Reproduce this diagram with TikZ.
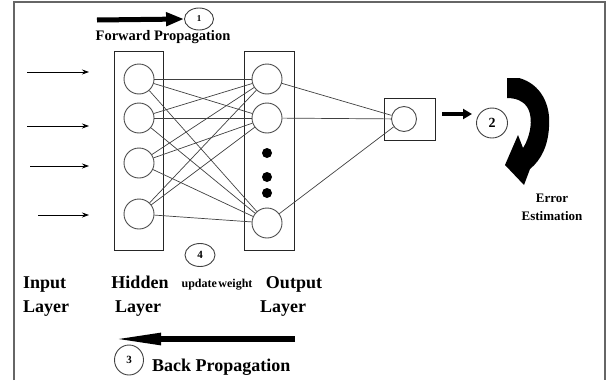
\documentclass[tikz,border=0pt]{standalone}
\usepackage{fontspec}
\setmainfont{Liberation Serif}
\usetikzlibrary{arrows.meta,shapes.geometric}
\begin{document}
\begin{tikzpicture}[x=1pt,y=-1pt,
  neuron/.style={draw=black!70, line width=0.9pt, circle, minimum size=30pt, inner sep=0pt},
  dotnode/.style={fill=black, circle, minimum size=10pt, inner sep=0pt},
  layerbox/.style={draw=black!85, line width=0.9pt},
  link/.style={draw=black!75, line width=0.7pt},
  numnode/.style={draw=black!75, line width=0.9pt, ellipse, inner sep=0pt, font=\bfseries},
  lbl/.style={font=\fontsize{18}{20}\selectfont\bfseries, inner sep=0pt},
  inarrow/.style={draw=black, line width=0.8pt, -{Stealth[length=7pt,width=5pt]}}
]
\useasboundingbox (0,0) rectangle (609,380);
% frame
\draw[draw=black!60, line width=1.8pt] (14,380) -- (14,2) -- (605,2) -- (605,380);

% layer boxes
\draw[layerbox] (114,51) rectangle (163,250);
\draw[layerbox] (244,51) rectangle (294,250);
\draw[layerbox] (384,98) rectangle (435,140);

% neurons
\node[neuron] (h1) at (139,79) {};
\node[neuron] (h2) at (139,118) {};
\node[neuron] (h3) at (139,163) {};
\node[neuron] (h4) at (139,214) {};
\node[neuron] (o1) at (267,79) {};
\node[neuron] (o2) at (267,118) {};
\node[neuron] (o3) at (267,223) {};
\node[dotnode] (d1) at (267,153) {};
\node[dotnode] (d2) at (267,177) {};
\node[dotnode] (d3) at (267,193) {};
\node[neuron, minimum size=25pt] (f) at (404,119) {};

% connections
\foreach \h in {h1,h2,h3,h4}
  \foreach \o in {o1,o2,o3}
    \draw[link] (\h) -- (\o);
\foreach \o in {o1,o2,o3}
  \draw[link] (\o) -- (f);

% input arrows
\coordinate (i1s) at (27,72);  \coordinate (i1e) at (89,72);
\coordinate (i2s) at (27,126); \coordinate (i2e) at (89,126);
\coordinate (i3s) at (30,166); \coordinate (i3e) at (89,166);
\coordinate (i4s) at (38,215); \coordinate (i4e) at (89,215);
\draw[inarrow] (i1s) -- (i1e);
\draw[inarrow] (i2s) -- (i2e);
\draw[inarrow] (i3s) -- (i3e);
\draw[inarrow] (i4s) -- (i4e);

% numbered circles
\node[numnode, minimum width=29pt, minimum height=22pt, font=\fontsize{9}{9}\selectfont\bfseries] (n1) at (199,19) {1};
\node[numnode, minimum width=31pt, minimum height=30pt, font=\fontsize{14}{14}\selectfont\bfseries] (n2) at (492,123) {2};
\node[numnode, minimum width=29pt, minimum height=30pt, font=\fontsize{11}{11}\selectfont\bfseries] (n3) at (129,360) {3};
\node[numnode, minimum width=30pt, minimum height=23pt, font=\fontsize{11}{11}\selectfont\bfseries] (n4) at (200,255) {4};

% forward arrow
\coordinate (fs) at (97,20);
\draw[line width=5pt, -{Triangle[length=18pt,width=13pt]}] (fs) -- (n1.west);

% arrow to circle 2
\coordinate (fbe) at (442,114);
\coordinate (fbt) at (472,114);
\draw[line width=4pt, -{Triangle[length=9pt,width=10pt]}] (fbe) -- (fbt);

% back arrow
\coordinate (bs) at (295,339);
\coordinate (be) at (113,339);
\draw[line width=5.5pt, -{Triangle[length=48pt,width=11pt]}] (bs) -- (be);

% curved error arrow
\fill (507,78) -- (519,78) .. controls (541,84) and (551,105) .. (549,127)
  .. controls (548,146) and (541,160) .. (530,169) -- (524,185) -- (505,165)
  -- (518,135) -- (523,148) .. controls (532,134) and (535,110) .. (522,102)
  .. controls (518,99) and (512,98) .. (507,98) -- cycle;

% texts
\node[anchor=base, inner sep=0pt, font=\fontsize{14.5}{16}\selectfont\bfseries] (tfp) at (163,40) {Forward Propagation};
\node[lbl, anchor=base west] (tin) at (23,288) {Input};
\node[lbl, anchor=base west] (til) at (23,312) {Layer};
\node[lbl, anchor=base] (thd) at (140,288) {Hidden};
\node[lbl, anchor=base] (thl) at (138,312) {Layer};
\node[anchor=base, inner sep=0pt, font=\fontsize{12}{14}\selectfont\bfseries] (tuw) at (217,287) {update\hspace{1.5pt}weight};
\node[lbl, anchor=base] (tot) at (294,288) {Output};
\node[lbl, anchor=base] (tol) at (283,312) {Layer};
\node[lbl, anchor=base west] (tbp) at (152,371) {Back Propagation};
\node[anchor=base, inner sep=0pt, font=\fontsize{13}{15}\selectfont\bfseries] (te1) at (552,202) {Error};
\node[anchor=base, inner sep=0pt, font=\fontsize{13}{15}\selectfont\bfseries] (te2) at (552,220) {Estimation};
\end{tikzpicture}
\end{document}
